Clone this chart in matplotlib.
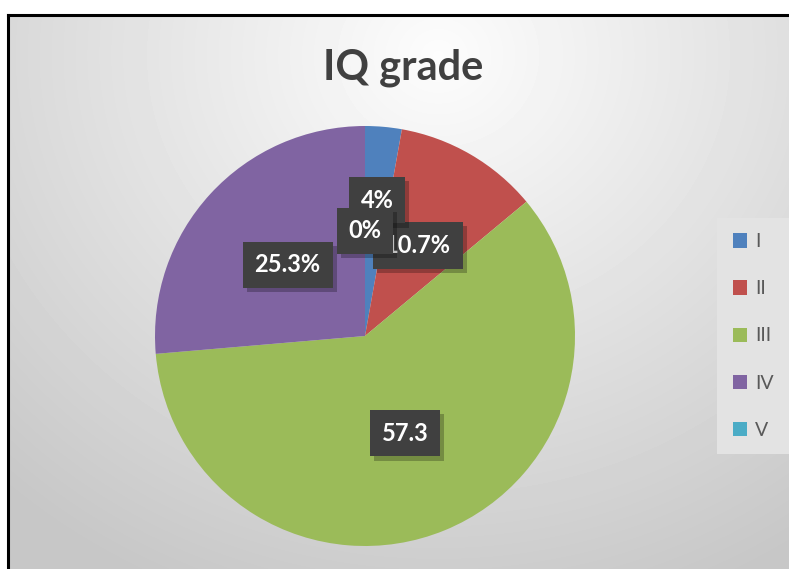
import numpy as np
import matplotlib
matplotlib.use("Agg")
import matplotlib.pyplot as plt
import matplotlib.patheffects as pe

# chart data
grades = ["I", "II", "III", "IV", "V"]
shares = [2.7, 10.7, 57.3, 25.3, 0.0]
label_texts = ["4%", "10.7%", "57.3", "25.3%", "0%"]
colors = ["#4F81BD", "#C0504D", "#9BBB59", "#8064A2", "#4BACC6"]

W, H = 789, 569
fig = plt.figure(figsize=(W / 100, H / 100), dpi=100)
fig.patch.set_facecolor("white")

# chart area background: soft radial gradient with a black frame on top/left
bg = fig.add_axes([8 / W, 0, 1 - 8 / W, 1 - 15 / H])
yy, xx = np.mgrid[0:554, 0:781]
dist = np.hypot(xx - 430, (yy - 40) * 1.1)
shade = np.clip(0.99 - 0.19 * dist / 580, 0.78, 1.0)
bg.imshow(shade, cmap="gray", vmin=0, vmax=1, aspect="auto",
          extent=[0, 1, 0, 1], origin="upper")
bg.set_xlim(0, 1)
bg.set_ylim(0, 1)
bg.set_xticks([])
bg.set_yticks([])
for side, sp in bg.spines.items():
    sp.set_visible(side in ("left", "top"))
    sp.set_color("black")
    sp.set_linewidth(2.2)

fig.text(403 / W, 1 - 68 / H, "IQ grade", ha="center", va="center",
         fontsize=30, fontweight="bold", color="#404040", family="Lato")

# pie
ax = fig.add_axes([155 / W, 23 / H, 420 / W, 420 / H])
wedges, _ = ax.pie(shares, colors=colors, startangle=90, counterclock=False,
                   radius=1, wedgeprops=dict(linewidth=0))
ax.set_xlim(-1, 1)
ax.set_ylim(-1, 1)
ax.axis("off")

# data labels, stacked like Excel: "0%" ends up on top
for k, i in enumerate([3, 2, 1, 0, 4]):
    w = wedges[i]
    ang = np.deg2rad((w.theta1 + w.theta2) / 2)
    r = 0.65 if i == 0 else 0.5
    x, y = r * np.cos(ang), r * np.sin(ang)
    if shares[i] == 0:
        x, y = 0.0, 0.5
    t = ax.text(x, y, label_texts[i], ha="center", va="center",
                fontsize=17, fontweight="bold", color="white", family="Lato",
                zorder=5 + k,
                bbox=dict(boxstyle="square,pad=0.5", fc="#404040", ec="none"))
    t.get_bbox_patch().set_path_effects(
        [pe.SimplePatchShadow(offset=(3, -3), shadow_rgbFace="black", alpha=0.25),
         pe.Normal()])

# legend
leg = fig.legend(wedges, grades, loc="center", bbox_to_anchor=(753 / W, 1 - 336 / H),
                 frameon=True, labelcolor="#595959",
                 handlelength=0.75, handleheight=0.75, handletextpad=0.4,
                 labelspacing=1.55, borderpad=0.8, fancybox=False,
                 prop={"family": "Lato", "size": 14})
leg.get_frame().set_facecolor("#e3e3e3")
leg.get_frame().set_edgecolor("none")
leg.get_frame().set_alpha(1)

fig.savefig("out.png", dpi=100)
